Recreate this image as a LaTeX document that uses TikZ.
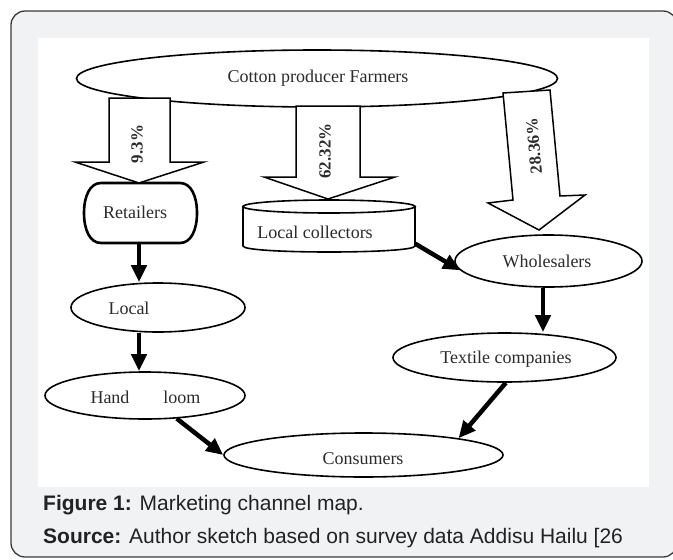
\documentclass[tikz,border=0pt]{standalone}
\usepackage{fontspec}
\setmainfont{Liberation Serif}
\newfontfamily\capfont{Liberation Sans}
\usetikzlibrary{shapes.geometric,arrows.meta,calc}
\definecolor{framegray}{HTML}{F1F2F4}
\definecolor{frameline}{HTML}{3A3A3A}
\definecolor{txt}{HTML}{2B2B2B}
\definecolor{captxt}{HTML}{222222}
\begin{document}
\begin{tikzpicture}[x=1pt,y=-1pt,
  lbl/.style={font=\fontsize{18}{20}\selectfont, text=txt, inner sep=0pt},
  ell/.style={ellipse, draw=black, line width=1.6pt, fill=white, inner sep=0pt},
  blockarrow/.style={draw=black, line width=1.5pt, fill=white, line join=miter},
  flow/.style={line width=4.5pt, black, -{Triangle[length=17pt,width=15pt]}},
  pct/.style={font=\fontsize{17}{18}\selectfont\bfseries, text=txt, inner sep=0pt},
  captionline/.style={font=\capfont\fontsize{21}{24}\selectfont, text=captxt, inner sep=0pt, anchor=base west}
]
\useasboundingbox (0,0) rectangle (673,560);
% frame
\begin{scope}
\clip (0,0) rectangle (673,560);
\draw[frameline, line width=1.3pt, fill=framegray, rounded corners=14pt] (11,11) rectangle (677,557);
\end{scope}
\fill[white] (38,37.5) rectangle (649,487);

% top ellipse
\node[ell, minimum width=481pt, minimum height=57pt] (farm) at (317,78.5) {};
\node[lbl] at (318,78) {Cotton producer Farmers};

% retailers (barrel box)
\node[minimum width=113pt, minimum height=60pt, inner sep=0pt] (ret) at (140.5,213) {};
\draw[line width=2.6pt, fill=white] (101,183) -- (180,183)
  .. controls (191,183) and (197,196) .. (197,213)
  .. controls (197,230) and (191,243) .. (180,243) -- (101,243)
  .. controls (90,243) and (84,230) .. (84,213)
  .. controls (84,196) and (90,183) .. (101,183) -- cycle;
\node[lbl] at (135,212) {Retailers};

% local collectors (cylinder)
\node[minimum width=172pt, minimum height=40pt, inner sep=0pt] (col) at (329,226.5) {};
\draw[line width=1.6pt, fill=white] (243,206.5) -- (243,246)
  .. controls (243,254) and (415,254) .. (415,246) -- (415,206.5) -- cycle;
\draw[line width=1.6pt, fill=white] (329,206.5) ellipse [x radius=86, y radius=6.5];
\node[lbl] at (315,232) {Local collectors};

% ellipses
\node[ell, minimum width=174pt, minimum height=49pt] (local) at (158,307.5) {};
\node[lbl] at (129,308) {Local};
\node[ell, minimum width=200pt, minimum height=47pt] (hand) at (145,395.5) {};
\node[lbl] at (145.5,397) {Hand\hspace{34pt}loom};
\node[ell, minimum width=187pt, minimum height=52pt] (whole) at (548.5,261) {};
\node[lbl] at (547,261) {Wholesalers};
\node[ell, minimum width=223pt, minimum height=49pt] (textile) at (504.5,357.5) {};
\node[lbl] at (506,359) {Textile companies};
\node[ell, minimum width=279pt, minimum height=44pt] (cons) at (363.5,455) {};
\node[lbl] at (363,459) {Consumers};

% block arrows (share shapes from the farmers)
\draw[blockarrow] (109,98) -- (170,98) -- (170,162) -- (204,162) -- (139,183)
  -- (75,162) -- (109,162) -- cycle;
\node[pct, rotate=90] at (137,144) {9.3\%};
\draw[blockarrow] (296,106) -- (360,106) -- (360,177) -- (395,177) -- (328,199)
  -- (264,177) -- (296,177) -- cycle;
\node[pct, rotate=90] at (325,151) {62.32\%};
\draw[blockarrow] (503,93) -- (550,90) -- (560,196) -- (585,195) -- (539,230)
  -- (488,203) -- (513,200) -- cycle;
\node[pct, rotate=95.2] at (534,146) {28.36\%};

% thick flow arrows
\draw[flow] ([xshift=-1.5pt]ret.south) -- ([xshift=-1.5pt]ret.south |- local.north);
\draw[flow] ([xshift=-1.5pt]ret.south |- local.south) -- ([xshift=-1.5pt]ret.south |- hand.north);
\draw[flow] ([yshift=3pt]col.south east) -- (whole.186);
\draw[flow] ([xshift=-5.5pt]whole.south) -- ([xshift=-5.5pt]whole.south |- textile.north);
\draw[flow] (hand.-36) -- (cons.west);
\draw[flow] (textile.-87) -- (cons.10);

% caption
\node[captionline] at (43,510) {\textbf{Figure 1:} Marketing channel map.};
\node[captionline] at (43,543) {\textbf{Source:} Author sketch based on survey data Addisu Hailu [26};
\end{tikzpicture}
\end{document}
